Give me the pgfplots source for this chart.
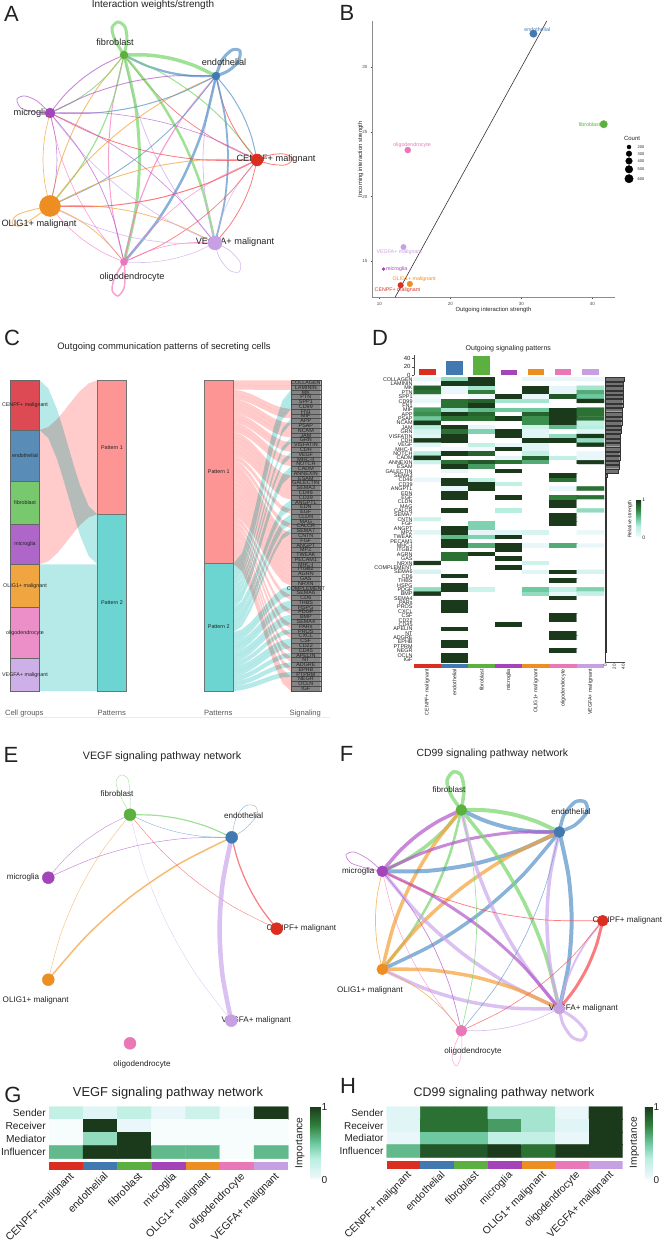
\documentclass[border=0pt]{standalone}
\usepackage{fontspec}
\setmainfont{Liberation Sans}
\usepackage{pgfplots}
\pgfplotsset{compat=1.18}

\definecolor{ccen}{HTML}{D92E20}
\definecolor{cend}{HTML}{4279B0}
\definecolor{cfib}{HTML}{5CB03F}
\definecolor{cmic}{HTML}{A344B9}
\definecolor{colg}{HTML}{EC8E21}
\definecolor{coli}{HTML}{E878B8}
\definecolor{cveg}{HTML}{C7A0E3}
\definecolor{ecen}{HTML}{F8484F}
\definecolor{eend}{HTML}{5A94C8}
\definecolor{efib}{HTML}{7AD66E}
\definecolor{emic}{HTML}{B35BCB}
\definecolor{eolg}{HTML}{F4A23C}
\definecolor{eoli}{HTML}{F77BC0}
\definecolor{eveg}{HTML}{CDA9EC}
\definecolor{tcen}{HTML}{DD4A53}
\definecolor{tend}{HTML}{5A8CB8}
\definecolor{tfib}{HTML}{78C96E}
\definecolor{tmic}{HTML}{AE66C8}
\definecolor{tolg}{HTML}{F0A540}
\definecolor{toli}{HTML}{EC8FC8}
\definecolor{tveg}{HTML}{CDB0E8}
\definecolor{pat1}{HTML}{FE9595}
\definecolor{pat2}{HTML}{6CD5D2}
\definecolor{flow1}{HTML}{FFCCCB}
\definecolor{flow2}{HTML}{B5EAE8}
\definecolor{txt}{HTML}{222222}

\pgfplotsset{colormap={hm}{rgb255(0pt)=(255,255,255); rgb255(5pt)=(234,247,250); rgb255(30pt)=(184,238,223); rgb255(50pt)=(110,200,160); rgb255(75pt)=(47,127,58); rgb255(100pt)=(27,58,28)}}

\newcommand{\fs}[1]{\fontsize{#1}{#1}\selectfont}
\def\cells{CENPF+ malignant,endothelial,fibroblast,microglia,OLIG1+ malignant,oligodendrocyte,VEGFA+ malignant}
\def\signames{COLLAGEN,LAMININ,MK,PTN,SPP1,CD99,FN1,MIF,APP,PSAP,NCAM,JAM,GRN,VISFATIN,CDH,VEGF,MHC-II,NOTCH,CADM,ANNEXIN,ESAM,GALECTIN,SEMA3,CD46,CD39,ANGPTL,EDN,EGF,CLDN,MAG,CALCR,SEMA7,CNTN,FGF,ANGPT,MPZ,TWEAK,PECAM1,MHC-I,ITGB2,AGRN,GAS,NRXN,COMPLEMENT,SEMA6,CD6,THBS,HSPG,PDGF,BMP,SEMA4,PARs,PROS,CXCL,CSF,CD22,CD45,APELIN,NT,ADGRE,EPHB,PTPRM,NEGR,OCLN,IGF}

% network helpers, coordinates are pixels of the figure
\newcommand{\setn}[4]{\expandafter\def\csname x#1#2\endcsname{#3}\expandafter\def\csname y#1#2\endcsname{#4}}
\def\bend{0.075}
\newcommand{\edge}[4]{%
  \pgfmathsetmacro\ax{\csname x#1#2\endcsname}\pgfmathsetmacro\ay{\csname y#1#2\endcsname}%
  \pgfmathsetmacro\bx{\csname x#1#3\endcsname}\pgfmathsetmacro\by{\csname y#1#3\endcsname}%
  \pgfmathsetmacro\ox{\bend*(\by-\ay)}\pgfmathsetmacro\oy{-\bend*(\bx-\ax)}%
  \pgfmathsetmacro\px{\ax+.25*(\bx-\ax)+.75*\ox}\pgfmathsetmacro\py{\ay+.25*(\by-\ay)+.75*\oy}%
  \pgfmathsetmacro\mx{\ax+.5*(\bx-\ax)+\ox}\pgfmathsetmacro\my{\ay+.5*(\by-\ay)+\oy}%
  \pgfmathsetmacro\qx{\ax+.75*(\bx-\ax)+.75*\ox}\pgfmathsetmacro\qy{\ay+.75*(\by-\ay)+.75*\oy}%
  \edef\temp{\noexpand\addplot[draw=e#2,draw opacity=0.72,line width=#4pt,smooth] coordinates {(\ax,\ay)(\px,\py)(\mx,\my)(\qx,\qy)(\bx,\by)};}\temp}
\newcommand{\selfloop}[3]{\addplot[draw=e#1,draw opacity=0.72,line width=#2pt,smooth] coordinates {#3};}
\newcommand{\netnode}[3]{%
  \edef\temp{\noexpand\addplot[only marks,mark=*,mark size=#3pt,color=c#2] coordinates {(\csname x#1#2\endcsname,\csname y#1#2\endcsname)};}\temp}
\newcommand{\lab}[4]{\node[font=\fs{#3},text=txt,inner sep=0pt] at (axis cs:#1,#2) {#4};}
\newcommand{\rect}[6]{\addplot[fill=#5,draw=#6,line width=0.5pt] coordinates {(#1,#3)(#2,#3)(#2,#4)(#1,#4)(#1,#3)};}

% alluvium between two columns
\newcommand{\addpt}[2]{%
  \pgfmathsetmacro\px{\fxa+(\fxb-\fxa)*#1}%
  \pgfmathsetmacro\py{\fyl+(\fyr-\fyl)*#2}%
  \edef\pts{\pts(\px,\py)}}
\newcommand{\flow}[7]{%
  \def\pts{}\def\fxa{#2}\def\fxb{#3}%
  \def\fyl{#4}\def\fyr{#6}%
  \addpt{0}{0}\addpt{.15}{.061}\addpt{.3}{.216}\addpt{.4}{.352}\addpt{.5}{.5}\addpt{.6}{.648}\addpt{.7}{.784}\addpt{.85}{.939}\addpt{1}{1}%
  \def\fyl{#5}\def\fyr{#7}%
  \addpt{1}{1}\addpt{.85}{.939}\addpt{.7}{.784}\addpt{.6}{.648}\addpt{.5}{.5}\addpt{.4}{.352}\addpt{.3}{.216}\addpt{.15}{.061}\addpt{0}{0}%
  \edef\temp{\noexpand\addplot[fill=#1,draw=none,blend mode=multiply] coordinates {\pts};}\temp}
% one band from pattern column to signal row r: \rfa / \rfb keep the running position
\newcount\kA \newcount\kB
\newcommand{\rfa}[1]{%
  \pgfmathsetmacro\sa{380.3+4.703*\the\kA}\pgfmathsetmacro\sb{\sa+4.703}%
  \pgfmathsetmacro\ta{380.3+4.78*(#1-1)}\pgfmathsetmacro\tb{\ta+4.78}%
  \flow{flow1}{233.3}{291}{\sa}{\sb}{\ta}{\tb}\global\advance\kA by 1 }
\newcommand{\rfb}[1]{%
  \pgfmathsetmacro\sa{563.7+4.896*\the\kB}\pgfmathsetmacro\sb{\sa+4.896}%
  \pgfmathsetmacro\ta{380.3+4.78*(#1-1)}\pgfmathsetmacro\tb{\ta+4.78}%
  \flow{flow2}{233.3}{291}{\sa}{\sb}{\ta}{\tb}\global\advance\kB by 1 }

% heatmap rows
\newcommand{\hrow}[8]{\edef\hdata{\hdata(0,#1)[#2](1,#1)[#3](2,#1)[#4](3,#1)[#5](4,#1)[#6](5,#1)[#7](6,#1)[#8]}}
\newcommand{\hplot}{\edef\temp{\noexpand\addplot[matrix plot*,mesh/cols=7,point meta=explicit] coordinates {\hdata};}\temp}
\pgfplotsset{heat/.style={scale only axis,y dir=reverse,xmin=-0.5,xmax=6.5,
    colormap name=hm,point meta min=0,point meta max=1,
    axis line style={draw=none},major tick length=0pt,
    xtick={0,...,6},xticklabels/.expand once=\cells,xticklabel pos=bottom}}

\begin{document}
\begin{tikzpicture}
\useasboundingbox (0,0) rectangle (662pt,1241pt);

% ---- canvas axis: networks, alluvial columns, titles (pixel coordinates)
\begin{axis}[at={(0pt,0pt)},anchor=south west,scale only axis,width=662pt,height=1241pt,
    xmin=0,xmax=662,ymin=0,ymax=1241,y dir=reverse,hide axis,clip=false]

% A
\setn{A}{fib}{124}{55}\setn{A}{end}{216}{76}\setn{A}{cen}{257}{160}\setn{A}{veg}{215}{243}
\setn{A}{oli}{124}{262}\setn{A}{olg}{50}{206}\setn{A}{mic}{50}{113}
\edge{A}{fib}{end}{3.5}\edge{A}{end}{fib}{2.2}\edge{A}{fib}{cen}{1}\edge{A}{cen}{fib}{.7}
\edge{A}{fib}{veg}{2.5}\edge{A}{veg}{fib}{.8}\edge{A}{fib}{oli}{3}\edge{A}{oli}{fib}{1}
\edge{A}{fib}{olg}{1.2}\edge{A}{olg}{fib}{.9}\edge{A}{fib}{mic}{1}\edge{A}{mic}{fib}{.9}
\edge{A}{end}{cen}{1}\edge{A}{cen}{end}{.8}\edge{A}{end}{veg}{1.8}\edge{A}{veg}{end}{.8}
\edge{A}{end}{oli}{2.5}\edge{A}{oli}{end}{1.2}\edge{A}{end}{olg}{.9}\edge{A}{olg}{end}{.9}
\edge{A}{end}{mic}{1}\edge{A}{mic}{end}{.9}\edge{A}{cen}{veg}{.8}\edge{A}{veg}{cen}{.6}
\edge{A}{cen}{oli}{.7}\edge{A}{oli}{cen}{.6}\edge{A}{cen}{olg}{1}\edge{A}{olg}{cen}{.9}
\edge{A}{cen}{mic}{.8}\edge{A}{mic}{cen}{.6}\edge{A}{veg}{oli}{.6}\edge{A}{oli}{veg}{.6}
\edge{A}{veg}{olg}{.7}\edge{A}{olg}{veg}{.8}\edge{A}{veg}{mic}{.7}\edge{A}{mic}{veg}{.6}
\edge{A}{oli}{olg}{.6}\edge{A}{olg}{oli}{.8}\edge{A}{oli}{mic}{.6}\edge{A}{mic}{oli}{.7}
\edge{A}{olg}{mic}{.7}\edge{A}{mic}{olg}{.6}
\selfloop{fib}{3}{(124,55)(115,40)(112,28)(118,22)(125,27)(127,40)(124,55)}
\selfloop{end}{3}{(216,76)(222,60)(232,50)(240,51)(238,62)(228,71)(216,76)}
\selfloop{mic}{.8}{(50,113)(37,101)(25,96)(17,99)(21,108)(35,112)(50,113)}
\selfloop{cen}{.8}{(257,160)(270,155)(284,154)(293,159)(285,165)(270,164)(257,160)}
\selfloop{veg}{.7}{(215,243)(219,257)(229,270)(239,272)(240,262)(229,250)(215,243)}
\selfloop{oli}{1.5}{(124,262)(115,277)(112,290)(118,296)(124,288)(125,275)(124,262)}
\selfloop{olg}{.9}{(50,206)(32,210)(17,215)(12,223)(20,226)(35,217)(50,206)}
\netnode{A}{fib}{4}\netnode{A}{end}{4}\netnode{A}{cen}{6}\netnode{A}{veg}{7}
\netnode{A}{oli}{3.5}\netnode{A}{olg}{10.5}\netnode{A}{mic}{5}
\lab{115}{42}{9.2}{fibroblast}\lab{224}{62}{9.2}{endothelial}\lab{32}{113}{9.2}{microglia}
\lab{276}{159}{9.2}{CENPF+ malignant}\lab{39}{224.5}{9.2}{OLIG1+ malignant}
\lab{235}{242}{9.2}{VEGFA+ malignant}\lab{132}{277}{9.2}{oligodendrocyte}
\lab{153}{5}{10}{Interaction weights/strength}

% B legend
\node[font=\fs{6},text=txt] at (axis cs:632,138) {Count};
\addplot[only marks,mark=*,mark size=2pt,color=black] coordinates {(629,147)};
\addplot[only marks,mark=*,mark size=2.8pt,color=black] coordinates {(629,153.7)};
\addplot[only marks,mark=*,mark size=3.3pt,color=black] coordinates {(629,161)};
\addplot[only marks,mark=*,mark size=3.8pt,color=black] coordinates {(629,169.3)};
\addplot[only marks,mark=*,mark size=4.2pt,color=black] coordinates {(629,178.7)};
\lab{641}{147}{4}{200}\lab{641}{153.7}{4}{300}\lab{641}{161}{4}{400}\lab{641}{169.3}{4}{500}\lab{641}{178.7}{4}{600}

% C
\flow{flow2}{39.7}{97.3}{380.3}{430}{514.3}{564.3}
\flow{flow1}{39.7}{97.3}{430}{564.3}{380.3}{514.3}
\flow{flow2}{39.7}{97.3}{564.3}{691}{564.3}{691}
\rfa{1}\rfa{2}\rfa{7}\rfa{8}\rfa{10}\rfa{11}\rfa{12}\rfa{14}\rfa{15}\rfa{17}\rfa{18}\rfa{21}\rfa{22}
\rfa{23}\rfa{24}\rfa{25}\rfa{28}\rfa{31}\rfa{33}\rfa{34}\rfa{35}\rfa{36}\rfa{37}\rfa{38}\rfa{39}\rfa{40}
\rfa{41}\rfa{42}\rfa{43}\rfa{46}\rfa{49}\rfa{52}\rfa{54}\rfa{57}\rfa{59}\rfa{61}\rfa{63}\rfa{64}\rfa{65}
\rfb{3}\rfb{4}\rfb{5}\rfb{6}\rfb{9}\rfb{13}\rfb{16}\rfb{19}\rfb{20}\rfb{26}\rfb{27}\rfb{29}\rfb{30}
\rfb{32}\rfb{44}\rfb{45}\rfb{47}\rfb{48}\rfb{50}\rfb{51}\rfb{53}\rfb{55}\rfb{56}\rfb{58}\rfb{60}\rfb{62}
\rect{10.3}{39.7}{380.3}{430}{tcen}{black!60}
\rect{10.3}{39.7}{430}{481.7}{tend}{black!60}
\rect{10.3}{39.7}{481.7}{524.3}{tfib}{black!60}
\rect{10.3}{39.7}{524.3}{564.3}{tmic}{black!60}
\rect{10.3}{39.7}{564.3}{607.3}{tolg}{black!60}
\rect{10.3}{39.7}{607.3}{658.7}{toli}{black!60}
\rect{10.3}{39.7}{658.7}{691}{tveg}{black!60}
\rect{97.3}{126.7}{380.3}{514.3}{pat1}{black!55}
\rect{97.3}{126.7}{514.3}{691}{pat2}{black!55}
\rect{204.3}{233.3}{380.3}{563.7}{pat1}{black!55}
\rect{204.3}{233.3}{563.7}{691}{pat2}{black!55}
\lab{25}{405.3}{5.35}{CENPF+ malignant}\lab{25}{456}{5.35}{endothelial}\lab{25}{503}{5.35}{fibroblast}
\lab{25}{544.3}{5.35}{microglia}\lab{25}{586}{5.35}{OLIG1+ malignant}\lab{25}{633.5}{5.35}{oligodendrocyte}
\lab{25}{675}{5.35}{VEGFA+ malignant}
\lab{112}{447.5}{5.35}{Pattern 1}\lab{112}{603}{5.35}{Pattern 2}
\lab{218.8}{472}{5.35}{Pattern 1}\lab{218.8}{627}{5.35}{Pattern 2}
\node[font=\fs{7.6},text=black!65,inner sep=0pt] at (axis cs:24.3,713.3) {Cell groups};
\node[font=\fs{7.6},text=black!65,inner sep=0pt] at (axis cs:111.7,713.3) {Patterns};
\node[font=\fs{7.6},text=black!65,inner sep=0pt] at (axis cs:218.3,713.3) {Patterns};
\node[font=\fs{7.6},text=black!65,inner sep=0pt] at (axis cs:305.3,713.3) {Signaling};
\addplot[draw=black!8,line width=.5pt] coordinates {(5,717.3)(330,717.3)};
\lab{164}{347.3}{9.4}{Outgoing communication patterns of secreting cells}

% D
\lab{508.3}{349}{7}{Outgoing signaling patterns}
\node[font=\fs{5},text=txt,rotate=90,inner sep=0pt] at (axis cs:630,519) {Relative strength};

% E
\setn{E}{fib}{130}{814.7}\setn{E}{end}{231.7}{837.3}\setn{E}{cen}{276.7}{928.7}\setn{E}{veg}{231.3}{1020.7}
\setn{E}{oli}{130}{1043.3}\setn{E}{olg}{48.3}{979.7}\setn{E}{mic}{48.3}{877.7}
\def\bend{0.065}
\edge{E}{fib}{end}{1.2}\edge{E}{end}{fib}{.4}\edge{E}{mic}{fib}{.4}\edge{E}{mic}{end}{.5}
\edge{E}{olg}{fib}{.4}\edge{E}{olg}{end}{1.5}\edge{E}{cen}{fib}{.4}\edge{E}{cen}{end}{1.2}
\edge{E}{veg}{end}{4.5}\edge{E}{veg}{fib}{.3}
\selfloop{fib}{.4}{(130,814.7)(120,795)(116,782)(121,775)(128,779)(130,795)(130,814.7)}
\selfloop{end}{.4}{(231.7,837.3)(236,818)(245,806)(255,806)(257,815)(245,829)(231.7,837.3)}
\netnode{E}{fib}{6}\netnode{E}{end}{6}\netnode{E}{cen}{6}\netnode{E}{veg}{6}
\netnode{E}{oli}{6}\netnode{E}{olg}{6}\netnode{E}{mic}{6}
\lab{117}{793.3}{8.1}{fibroblast}\lab{243.7}{815.7}{8.1}{endothelial}\lab{23}{877}{8.1}{microglia}
\lab{301.3}{928.7}{8.1}{CENPF+ malignant}\lab{35.7}{1000.7}{8.1}{OLIG1+ malignant}
\lab{256.3}{1020}{8.1}{VEGFA+ malignant}\lab{142}{1064.7}{8.1}{oligodendrocyte}
\lab{162}{756.7}{10.75}{VEGF signaling pathway network}

% F
\setn{F}{fib}{461.3}{810}\setn{F}{end}{559.3}{832}\setn{F}{cen}{602.7}{920.7}\setn{F}{veg}{559.3}{1008.7}
\setn{F}{oli}{461.3}{1030.7}\setn{F}{olg}{382.3}{969.3}\setn{F}{mic}{382.3}{871.3}
\def\bend{0.07}
\edge{F}{fib}{end}{4}\edge{F}{end}{fib}{4}\edge{F}{mic}{fib}{3.5}\edge{F}{fib}{mic}{3.5}
\edge{F}{olg}{fib}{3.5}\edge{F}{fib}{olg}{2.5}\edge{F}{mic}{end}{3}\edge{F}{end}{mic}{4}
\edge{F}{olg}{end}{3.5}\edge{F}{end}{olg}{3.5}\edge{F}{fib}{veg}{3.5}\edge{F}{veg}{fib}{3.5}
\edge{F}{end}{veg}{4}\edge{F}{veg}{end}{3.5}\edge{F}{mic}{veg}{3}\edge{F}{veg}{mic}{3.5}
\edge{F}{olg}{veg}{3.5}\edge{F}{veg}{olg}{3.5}\edge{F}{cen}{veg}{3}\edge{F}{veg}{cen}{2}
\edge{F}{olg}{mic}{.7}\edge{F}{cen}{mic}{.7}\edge{F}{mic}{oli}{.7}\edge{F}{veg}{oli}{.7}
\edge{F}{olg}{oli}{.7}\edge{F}{cen}{oli}{.6}\edge{F}{end}{oli}{.6}\edge{F}{fib}{oli}{.7}
\edge{F}{oli}{mic}{.5}
\selfloop{fib}{3.5}{(461.3,810)(451,795)(447,781)(453,772)(461,775)(464,790)(461.3,810)}
\selfloop{end}{3.5}{(559.3,832)(564,815)(575,802)(585,802)(587,812)(575,825)(559.3,832)}
\selfloop{mic}{.7}{(382.3,871.3)(368,859)(354,852)(346,855)(351,863)(366,868)(382.3,871.3)}
\selfloop{veg}{3}{(559.3,1008.7)(563,1024)(572,1037)(582,1040)(586,1032)(575,1019)(559.3,1008.7)}
\selfloop{oli}{.5}{(461.3,1030.7)(455,1045)(452,1058)(456,1066)(460,1060)(462,1045)(461.3,1030.7)}
\netnode{F}{fib}{5.5}\netnode{F}{end}{5.5}\netnode{F}{cen}{5.5}\netnode{F}{veg}{5.5}
\netnode{F}{oli}{5.5}\netnode{F}{olg}{5.5}\netnode{F}{mic}{5.5}
\lab{449}{789.7}{8.1}{fibroblast}\lab{571}{811.3}{8.1}{endothelial}\lab{358.3}{871}{8.1}{microglia}
\lab{627.3}{920}{8.1}{CENPF+ malignant}\lab{370}{990}{8.1}{OLIG1+ malignant}
\lab{583.3}{1008.7}{8.1}{VEGFA+ malignant}\lab{473}{1051.3}{8.1}{oligodendrocyte}
\lab{492.3}{754}{10.4}{CD99 signaling pathway network}

% G, H titles
\lab{168}{1093}{12.9}{VEGF signaling pathway network}
\lab{504}{1093}{12.4}{CD99 signaling pathway network}
\node[font=\fs{10.2},text=txt,rotate=90,inner sep=0pt] at (axis cs:300,1143) {Importance};
\node[font=\fs{10.2},text=txt,rotate=90,inner sep=0pt] at (axis cs:634.3,1142.7) {Importance};

% panel letters
\lab{11.5}{13.5}{22}{A}\lab{347}{12.5}{22}{B}\lab{12}{338}{22}{C}\lab{380}{338}{22}{D}
\lab{11}{754.5}{22}{E}\lab{346.5}{754}{22}{F}\lab{13}{1095}{22}{G}\lab{348}{1086}{22}{H}
\end{axis}

% ---- B: scatter
\begin{axis}[at={(372.3pt,943.7pt)},anchor=south west,scale only axis,width=242.4pt,height=276.3pt,
    xmin=9.01,xmax=43.15,ymin=12.22,ymax=33.58,
    axis lines=left,axis line style={-,draw=black!45,line width=.7pt},
    xtick={10,20,30,40},ytick={15,20,25,30},
    tick align=outside,major tick length=1.5pt,tick style={draw=black!70,line width=.4pt},
    tick label style={font=\fs{4.5},text=black!70,/pgf/number format/assume math mode=true},
    xlabel={Outgoing interaction strength},ylabel={Incoming interaction strength},
    xlabel style={font=\fs{5.9},text=txt,yshift=5pt},
    ylabel style={font=\fs{5.9},text=txt,yshift=-8pt},clip=false]
\addplot[draw=black!80,line width=.6pt] coordinates {(12.22,12.22)(33.58,33.58)};
\addplot[only marks,mark=*,mark size=3.7pt,color=cend] coordinates {(31.7,32.6)};
\addplot[only marks,mark=*,mark size=3.7pt,color=cfib] coordinates {(41.6,25.6)};
\addplot[only marks,mark=*,mark size=3pt,color=coli] coordinates {(14.0,23.6)};
\addplot[only marks,mark=*,mark size=2.7pt,color=cveg] coordinates {(13.4,16.1)};
\addplot[only marks,mark=*,mark size=1.5pt,color=cmic] coordinates {(10.6,14.4)};
\addplot[only marks,mark=*,mark size=2.8pt,color=colg] coordinates {(14.3,13.25)};
\addplot[only marks,mark=*,mark size=2.8pt,color=ccen] coordinates {(13.0,13.15)};
\node[font=\fs{5.3},text=cend,inner sep=0pt] at (axis cs:32.25,32.9) {endothelial};
\node[font=\fs{5.3},text=cfib,inner sep=0pt] at (axis cs:39.6,25.6) {fibroblast};
\node[font=\fs{5.3},text=coli,inner sep=0pt] at (axis cs:14.6,24) {oligodendrocyte};
\node[font=\fs{5.3},text=cveg,inner sep=0pt] at (axis cs:12.8,15.7) {VEGFA+ malignant};
\node[font=\fs{5.3},text=cmic,inner sep=0pt] at (axis cs:12.45,14.4) {microglia};
\node[font=\fs{5.3},text=colg,inner sep=0pt] at (axis cs:14.9,13.6) {OLIG1+ malignant};
\node[font=\fs{5.3},text=ccen,inner sep=0pt] at (axis cs:12.55,12.75) {CENPF+ malignant};
\end{axis}

% ---- C: signal column with names
\begin{axis}[at={(291pt,550pt)},anchor=south west,scale only axis,width=29.7pt,height=310.7pt,
    xmin=0,xmax=1,ymin=0.5,ymax=65.5,y dir=reverse,axis on top,
    axis line style={draw=none},major tick length=0pt,xtick=\empty,
    ytick={1,...,65},yticklabels/.expand once=\signames,
    yticklabel style={font=\fs{5.4},text=txt,anchor=center,xshift=14.85pt,inner sep=0pt},clip=false]
\addplot[xbar,bar width=1,bar shift=0pt,fill=black!48,draw=black!70,line width=.35pt] coordinates {
(1,1)(1,2)(1,3)(1,4)(1,5)(1,6)(1,7)(1,8)(1,9)(1,10)(1,11)(1,12)(1,13)
(1,14)(1,15)(1,16)(1,17)(1,18)(1,19)(1,20)(1,21)(1,22)(1,23)(1,24)(1,25)(1,26)
(1,27)(1,28)(1,29)(1,30)(1,31)(1,32)(1,33)(1,34)(1,35)(1,36)(1,37)(1,38)(1,39)
(1,40)(1,41)(1,42)(1,43)(1,44)(1,45)(1,46)(1,47)(1,48)(1,49)(1,50)(1,51)(1,52)
(1,53)(1,54)(1,55)(1,56)(1,57)(1,58)(1,59)(1,60)(1,61)(1,62)(1,63)(1,64)(1,65)};
\end{axis}

% ---- D: top bars
\begin{axis}[at={(413.7pt,865.7pt)},anchor=south west,scale only axis,width=190.3pt,height=20.3pt,
    xmin=-0.5,xmax=6.5,ymin=0,ymax=48.6,axis x line=none,axis y line=left,
    y axis line style={-,line width=.4pt,draw=black!70},ytick={0,20,40},major tick length=2pt,tick align=outside,
    tick style={draw=black!70,line width=.4pt},
    tick label style={font=\fs{6},text=txt,/pgf/number format/assume math mode=true,inner sep=1pt},clip=false]
\addplot[ybar,bar width=16.5pt,bar shift=0pt,fill=ccen,draw=none] coordinates {(0,14.4)};
\addplot[ybar,bar width=16.5pt,bar shift=0pt,fill=cend,draw=none] coordinates {(1,33.5)};
\addplot[ybar,bar width=16.5pt,bar shift=0pt,fill=cfib,draw=none] coordinates {(2,45)};
\addplot[ybar,bar width=16.5pt,bar shift=0pt,fill=cmic,draw=none] coordinates {(3,13)};
\addplot[ybar,bar width=16.5pt,bar shift=0pt,fill=colg,draw=none] coordinates {(4,15)};
\addplot[ybar,bar width=16.5pt,bar shift=0pt,fill=coli,draw=none] coordinates {(5,15)};
\addplot[ybar,bar width=16.5pt,bar shift=0pt,fill=cveg,draw=none] coordinates {(6,15)};
\end{axis}

% ---- D: heatmap
\def\hdata{}
\hrow{1}{.05}{.4}{1}{0}{.05}{.05}{.05}
\hrow{2}{0}{1}{1}{0}{0}{0}{0}
\hrow{3}{.85}{.05}{.35}{0}{1}{.07}{.35}
\hrow{4}{.8}{.05}{.75}{0}{1}{.07}{.6}
\hrow{5}{.03}{0}{.03}{1}{.05}{.9}{.5}
\hrow{6}{.05}{.8}{.85}{.35}{.35}{0}{1}
\hrow{7}{0}{.8}{1}{0}{0}{0}{0}
\hrow{8}{.65}{.35}{.55}{.5}{.5}{1}{.8}
\hrow{9}{.7}{1}{.85}{0}{.85}{1}{.8}
\hrow{10}{.5}{.8}{.8}{1}{.7}{1}{.8}
\hrow{11}{1}{0}{0}{0}{.7}{1}{.25}
\hrow{12}{.3}{1}{.05}{0}{.2}{.55}{.3}
\hrow{13}{.15}{.8}{.45}{1}{.1}{0}{.1}
\hrow{14}{.1}{1}{0}{1}{.1}{.4}{1}
\hrow{15}{1}{1}{0}{0}{1}{1}{.4}
\hrow{16}{.1}{0}{.25}{.05}{.1}{0}{1}
\hrow{17}{0}{.03}{.03}{1}{.1}{0}{0}
\hrow{18}{.3}{1}{.85}{0}{.25}{0}{.05}
\hrow{19}{1}{0}{0}{.07}{.85}{.25}{.05}
\hrow{20}{.2}{.8}{.9}{.8}{.6}{0}{1}
\hrow{21}{0}{1}{.65}{0}{0}{0}{0}
\hrow{22}{0}{.05}{0}{1}{0}{0}{0}
\hrow{23}{0}{0}{0}{0}{0}{1}{0}
\hrow{24}{.05}{1}{.25}{0}{0}{.8}{0}
\hrow{25}{0}{1}{1}{.25}{0}{0}{0}
\hrow{26}{0}{.05}{1}{0}{0}{.05}{.8}
\hrow{27}{0}{1}{0}{0}{0}{0}{0}
\hrow{28}{0}{1}{0}{1}{0}{.75}{.8}
\hrow{29}{0}{0}{0}{0}{0}{1}{0}
\hrow{30}{0}{0}{0}{0}{0}{1}{0}
\hrow{31}{0}{1}{0}{.3}{0}{0}{.4}
\hrow{32}{0}{0}{0}{0}{0}{1}{0}
\hrow{33}{.2}{0}{0}{0}{0}{1}{0}
\hrow{34}{0}{0}{.45}{0}{0}{1}{0}
\hrow{35}{0}{1}{.45}{0}{0}{0}{0}
\hrow{36}{.1}{1}{.07}{.1}{.15}{0}{.05}
\hrow{37}{0}{.55}{.45}{1}{0}{0}{0}
\hrow{38}{0}{1}{0}{0}{0}{0}{0}
\hrow{39}{0}{1}{.6}{1}{.05}{.6}{.05}
\hrow{40}{0}{0}{0}{1}{0}{0}{0}
\hrow{41}{0}{.8}{1}{0}{0}{0}{0}
\hrow{42}{0}{.8}{0}{1}{0}{0}{0}
\hrow{43}{1}{0}{0}{0}{.2}{0}{0}
\hrow{44}{0}{0}{0}{1}{0}{0}{0}
\hrow{45}{.15}{0}{0}{0}{.1}{1}{.15}
\hrow{46}{0}{1}{0}{0}{0}{0}{0}
\hrow{47}{0}{0}{0}{0}{0}{1}{0}
\hrow{48}{0}{1}{0}{0}{0}{0}{0}
\hrow{49}{.4}{1}{.2}{0}{.5}{.25}{.45}
\hrow{50}{1}{0}{0}{0}{.4}{.05}{.25}
\hrow{51}{0}{0}{0}{0}{0}{1}{0}
\hrow{52}{0}{1}{0}{0}{0}{0}{0}
\hrow{53}{0}{1}{0}{0}{0}{0}{0}
\hrow{54}{0}{1}{0}{0}{0}{0}{0}
\hrow{55}{0}{0}{0}{0}{0}{1}{0}
\hrow{56}{0}{0}{0}{0}{0}{1}{0}
\hrow{57}{0}{0}{0}{1}{0}{0}{0}
\hrow{58}{0}{1}{0}{0}{0}{0}{0}
\hrow{59}{0}{0}{0}{0}{0}{1}{0}
\hrow{60}{0}{0}{0}{0}{0}{1}{0}
\hrow{61}{0}{1}{0}{0}{0}{0}{0}
\hrow{62}{0}{1}{0}{0}{0}{0}{0}
\hrow{63}{0}{0}{0}{0}{0}{1}{0}
\hrow{64}{0}{1}{0}{0}{0}{0}{0}
\hrow{65}{0}{1}{0}{0}{0}{0}{0}
\begin{axis}[heat,at={(413.7pt,572.7pt)},anchor=south west,width=190.3pt,height=291.2pt,
    ymin=0.5,ymax=66.98,
    ytick={1,...,65},yticklabels/.expand once=\signames,
    yticklabel style={font=\fs{5.4},text=txt,inner sep=1pt},
    xticklabel style={font=\fs{5.3},text=txt,rotate=90,anchor=east,inner sep=1pt},
    colorbar,colorbar style={at={(parent axis.north east)},anchor=north west,xshift=24pt,yshift=-122.9pt,
      width=4.7pt,height=37.3pt,ytick={0,1},major tick length=0pt,axis line style={draw=none},
      yticklabel style={font=\fs{5},text=txt,/pgf/number format/assume math mode=true,inner sep=1pt}}]
\hplot
\addplot[fill=ccen,draw=none] coordinates {(-.5,66)(.5,66)(.5,66.98)(-.5,66.98)};
\addplot[fill=cend,draw=none] coordinates {(.5,66)(1.5,66)(1.5,66.98)(.5,66.98)};
\addplot[fill=cfib,draw=none] coordinates {(1.5,66)(2.5,66)(2.5,66.98)(1.5,66.98)};
\addplot[fill=cmic,draw=none] coordinates {(2.5,66)(3.5,66)(3.5,66.98)(2.5,66.98)};
\addplot[fill=colg,draw=none] coordinates {(3.5,66)(4.5,66)(4.5,66.98)(3.5,66.98)};
\addplot[fill=coli,draw=none] coordinates {(4.5,66)(5.5,66)(5.5,66.98)(4.5,66.98)};
\addplot[fill=cveg,draw=none] coordinates {(5.5,66)(6.5,66)(6.5,66.98)(5.5,66.98)};
\end{axis}

% ---- D: totals per signal
\begin{axis}[at={(605.3pt,579.2pt)},anchor=south west,scale only axis,width=19.7pt,height=284.7pt,
    xmin=0,xmax=43.8,ymin=0.5,ymax=65.5,y dir=reverse,
    axis x line=bottom,axis y line=none,x axis line style={-,line width=.4pt,draw=black!70},
    xtick={0,20,40},major tick length=1.5pt,tick align=outside,tick style={draw=black!70,line width=.4pt},
    xticklabel style={font=\fs{4.5},text=txt,rotate=90,anchor=east,inner sep=1pt,/pgf/number format/assume math mode=true},
    clip=false]
\addplot[xbar,bar width=.8,bar shift=0pt,fill=black!55,draw=black!80,line width=.25pt] coordinates {
(41.5,1)(40.7,2)(40,3)(40,4)(39.3,5)(38.5,6)(38.5,7)(37.8,8)(37,9)(36.3,10)(36.3,11)(35.6,12)(34.8,13)
(34,14)(34,15)(33.3,16)(32.6,17)(31.9,18)(31.9,19)(31.1,20)(30.4,21)(28.1,22)(4.4,23)(2.2,24)(2.2,25)(1.5,26)
(1.4,27)(1.4,28)(1.3,29)(1.3,30)(1.3,31)(1.2,32)(1.2,33)(1.2,34)(1.2,35)(1.1,36)(1.1,37)(1.1,38)(1.1,39)
(1.1,40)(1,41)(1,42)(1,43)(1,44)(1,45)(1,46)(1,47)(1,48)(1,49)(.9,50)(.9,51)(.9,52)
(.9,53)(.9,54)(.9,55)(.9,56)(.9,57)(.8,58)(.8,59)(.8,60)(.8,61)(.8,62)(.8,63)(.7,64)(.7,65)};
\end{axis}

% ---- G
\def\hdata{}
\hrow{1}{.25}{.1}{.25}{.05}{.2}{.03}{1}
\hrow{2}{.02}{1}{.05}{.02}{.02}{.02}{.02}
\hrow{3}{.02}{.4}{1}{.02}{.02}{.02}{.02}
\hrow{4}{.55}{1}{1}{.55}{.55}{.02}{.55}
\begin{axis}[heat,at={(49pt,71pt)},anchor=south west,width=239.3pt,height=63.3pt,
    ymin=0.5,ymax=5.37,ytick={1,2,3,4},yticklabels={Sender,Receiver,Mediator,Influencer},
    yticklabel style={font=\fs{10.2},text=txt,inner sep=1pt,xshift=-2pt},
    xticklabel style={font=\fs{10.6},text=txt,rotate=45,anchor=north east,inner sep=1pt,xshift=2pt,yshift=-2pt},
    colorbar,colorbar style={at={(parent axis.north east)},anchor=north west,xshift=13.7pt,
      width=10pt,height=73.3pt,ytick={0,1},major tick length=0pt,axis line style={draw=none},
      yticklabel style={font=\fs{10.2},text=txt,/pgf/number format/assume math mode=true,inner sep=1pt}}]
\hplot
\addplot[fill=ccen,draw=none] coordinates {(-.5,4.75)(.5,4.75)(.5,5.37)(-.5,5.37)};
\addplot[fill=cend,draw=none] coordinates {(.5,4.75)(1.5,4.75)(1.5,5.37)(.5,5.37)};
\addplot[fill=cfib,draw=none] coordinates {(1.5,4.75)(2.5,4.75)(2.5,5.37)(1.5,5.37)};
\addplot[fill=cmic,draw=none] coordinates {(2.5,4.75)(3.5,4.75)(3.5,5.37)(2.5,5.37)};
\addplot[fill=colg,draw=none] coordinates {(3.5,4.75)(4.5,4.75)(4.5,5.37)(3.5,5.37)};
\addplot[fill=coli,draw=none] coordinates {(4.5,4.75)(5.5,4.75)(5.5,5.37)(4.5,5.37)};
\addplot[fill=cveg,draw=none] coordinates {(5.5,4.75)(6.5,4.75)(6.5,5.37)(5.5,5.37)};
\end{axis}

% ---- H
\def\hdata{}
\hrow{1}{.1}{.8}{.8}{.35}{.35}{.05}{1}
\hrow{2}{.1}{.8}{.8}{.65}{.35}{.1}{1}
\hrow{3}{.05}{.5}{.5}{.25}{.25}{.05}{1}
\hrow{4}{.55}{.9}{.9}{1}{.8}{1}{1}
\begin{axis}[heat,at={(386.7pt,72.3pt)},anchor=south west,width=236pt,height=62pt,
    ymin=0.5,ymax=5.4,ytick={1,2,3,4},yticklabels={Sender,Receiver,Mediator,Influencer},
    yticklabel style={font=\fs{10},text=txt,inner sep=1pt,xshift=-2pt},
    xticklabel style={font=\fs{10.4},text=txt,rotate=45,anchor=north east,inner sep=1pt,xshift=2pt,yshift=-2pt},
    colorbar,colorbar style={at={(parent axis.north east)},anchor=north west,xshift=13.6pt,
      width=7.7pt,height=73.3pt,ytick={0,1},major tick length=0pt,axis line style={draw=none},
      yticklabel style={font=\fs{10},text=txt,/pgf/number format/assume math mode=true,inner sep=1pt}}]
\hplot
\addplot[fill=ccen,draw=none] coordinates {(-.5,4.79)(.5,4.79)(.5,5.4)(-.5,5.4)};
\addplot[fill=cend,draw=none] coordinates {(.5,4.79)(1.5,4.79)(1.5,5.4)(.5,5.4)};
\addplot[fill=cfib,draw=none] coordinates {(1.5,4.79)(2.5,4.79)(2.5,5.4)(1.5,5.4)};
\addplot[fill=cmic,draw=none] coordinates {(2.5,4.79)(3.5,4.79)(3.5,5.4)(2.5,5.4)};
\addplot[fill=colg,draw=none] coordinates {(3.5,4.79)(4.5,4.79)(4.5,5.4)(3.5,5.4)};
\addplot[fill=coli,draw=none] coordinates {(4.5,4.79)(5.5,4.79)(5.5,5.4)(4.5,5.4)};
\addplot[fill=cveg,draw=none] coordinates {(5.5,4.79)(6.5,4.79)(6.5,5.4)(5.5,5.4)};
\end{axis}
\end{tikzpicture}
\end{document}
